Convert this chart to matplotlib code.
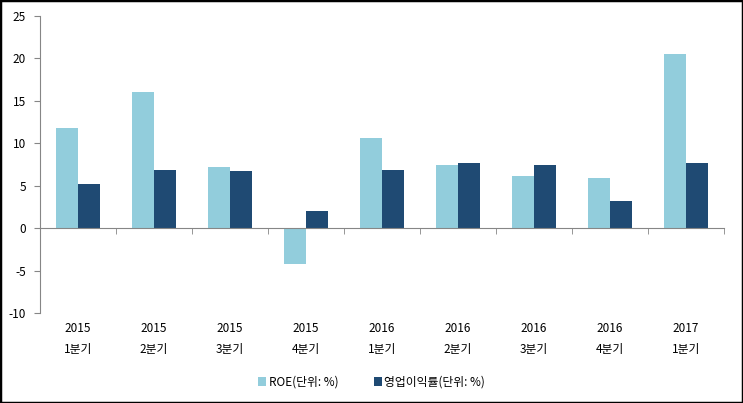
import numpy as np
import matplotlib.pyplot as plt
import matplotlib.transforms as mtransforms
from matplotlib.patches import Rectangle

plt.rcParams['font.family'] = ['Noto Sans CJK KR', 'DejaVu Sans']
plt.rcParams['axes.unicode_minus'] = False

years = ['2015', '2015', '2015', '2015', '2016', '2016', '2016', '2016', '2017']
quarters = ['1분기', '2분기', '3분기', '4분기', '1분기', '2분기', '3분기', '4분기', '1분기']
roe = [11.8, 16.0, 7.2, -4.2, 10.6, 7.5, 6.2, 5.9, 20.5]
op_margin = [5.2, 6.8, 6.7, 2.0, 6.8, 7.7, 7.4, 3.2, 7.7]

c_roe = '#92cddc'
c_op = '#1f4a73'

fig = plt.figure(figsize=(7.43, 4.03), dpi=100)
ax = fig.add_axes([40 / 743, 1 - 313 / 403, (724 - 40) / 743, (313 - 16) / 403])

x = np.arange(len(roe))
w = 0.29
ax.bar(x - w / 2, roe, w, color=c_roe, label='ROE(단위: %)')
ax.bar(x + w / 2, op_margin, w, color=c_op, label='영업이익률(단위: %)')

ax.set_xlim(-0.5, len(roe) - 0.5)
ax.set_ylim(-10, 25)
ax.set_yticks(range(-10, 26, 5))

for s in ['top', 'right']:
    ax.spines[s].set_visible(False)
ax.spines['left'].set_color('#868686')
ax.spines['bottom'].set_color('#868686')
ax.spines['bottom'].set_position(('data', 0))

ax.set_xticks([])
ax.set_xticks(np.arange(-0.5, len(roe)), minor=True)
ax.tick_params(axis='x', which='minor', length=4, color='#868686', direction='out')
ax.tick_params(axis='y', length=4, color='#868686', labelsize=8.5, pad=6)

trans = mtransforms.blended_transform_factory(ax.transData, fig.transFigure)
for i in range(len(roe)):
    ax.text(x[i], 1 - 329 / 403, years[i], transform=trans, ha='center', va='center', fontsize=8.5)
    ax.text(x[i], 1 - 349 / 403, quarters[i], transform=trans, ha='center', va='center', fontsize=8.5)

fig.legend(loc='center', bbox_to_anchor=(0.5, 1 - 382 / 403), ncol=2, frameon=False,
           fontsize=8.5, handlelength=0.7, handleheight=0.7, handletextpad=0.2, columnspacing=3)

fig.patches.append(Rectangle((0, 0), 1, 1, transform=fig.transFigure, fill=False,
                             edgecolor='black', linewidth=2.5))

fig.savefig('out.png', dpi=100)
